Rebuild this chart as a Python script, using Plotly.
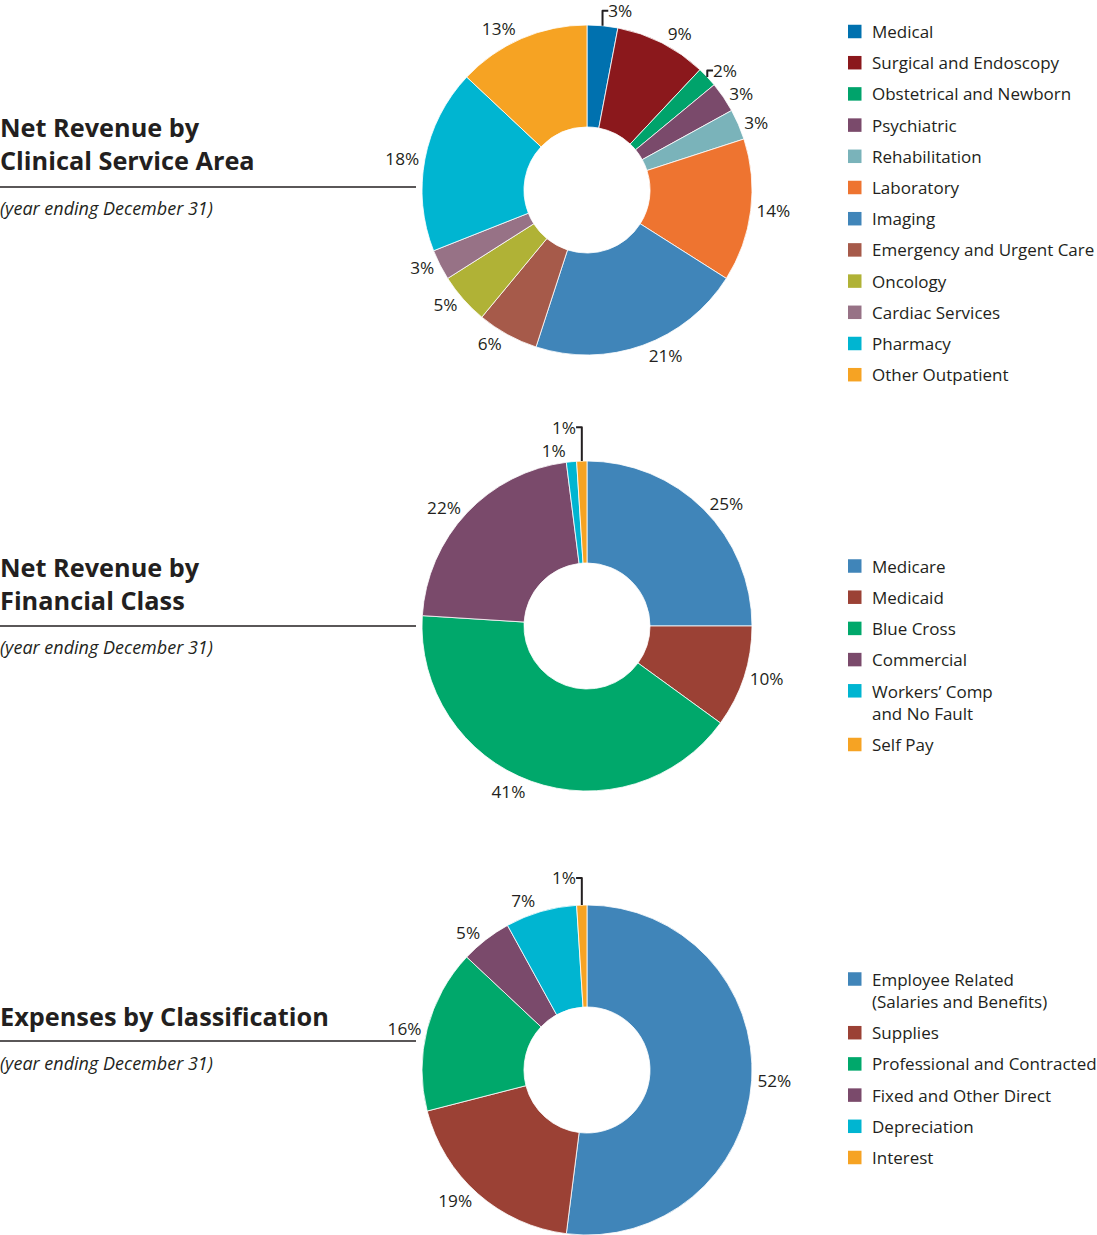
import plotly.graph_objects as go

W, H = 1097, 1235
FONT = "Open Sans"
INK = "#231f20"

# ---------------- data ----------------
clin_labels = ["Medical", "Surgical and Endoscopy", "Obstetrical and Newborn", "Psychiatric",
               "Rehabilitation", "Laboratory", "Imaging", "Emergency and Urgent Care",
               "Oncology", "Cardiac Services", "Pharmacy", "Other Outpatient"]
clin_values = [3, 9, 2, 3, 3, 14, 21, 6, 5, 3, 18, 13]
clin_colors = ["#0071af", "#8b181c", "#00a36b", "#7a4a6b", "#7ab3ba", "#ee7430",
               "#4085b9", "#a65a4a", "#b0b236", "#977286", "#00b5d1", "#f6a323"]

fin_labels = ["Medicare", "Medicaid", "Blue Cross", "Commercial",
              "Workers’ Comp<br>and No Fault", "Self Pay"]
fin_values = [25, 10, 41, 22, 1, 1]
fin_colors = ["#4085b9", "#9b4135", "#00a86b", "#7a4a6b", "#00b5d1", "#f6a323"]

exp_labels = ["Employee Related<br>(Salaries and Benefits)", "Supplies",
              "Professional and Contracted", "Fixed and Other Direct", "Depreciation", "Interest"]
exp_values = [52, 19, 16, 5, 7, 1]
exp_colors = ["#4085b9", "#9b4135", "#00a86b", "#7a4a6b", "#00b5d1", "#f6a323"]

titles = ["Net Revenue by<br>Clinical Service Area",
          "Net Revenue by<br>Financial Class",
          "Expenses by Classification"]
subtitle = "(year ending December 31)"

# ---------------- layout helpers (pixel -> paper) ----------------
def px(x):
    return x / W

def py(y):
    return 1 - y / H

panels = [
    dict(labels=clin_labels, values=clin_values, colors=clin_colors,
         cy=190, title_y=143, rule_y=187, sub_y=208, leg_y=31.5),
    dict(labels=fin_labels, values=fin_values, colors=fin_colors,
         cy=626, title_y=584, rule_y=626, sub_y=647, leg_y=566),
    dict(labels=exp_labels, values=exp_values, colors=exp_colors,
         cy=1070, title_y=1016, rule_y=1041, sub_y=1063, leg_y=979),
]
CX, R = 587, 165

fig = go.Figure()
annotations = []
shapes = []

for i, p in enumerate(panels):
    fig.add_trace(go.Pie(
        labels=p["labels"], values=p["values"],
        marker=dict(colors=p["colors"], line=dict(color="white", width=0.8)),
        sort=False, direction="clockwise", rotation=0, hole=0.382,
        textposition="outside", texttemplate="%{value}%",
        textfont=dict(family=FONT, size=17.2, color=INK),
        domain=dict(x=[px(CX - R), px(CX + R)], y=[py(p["cy"] + R), py(p["cy"] - R)]),
        showlegend=False, hoverinfo="label+value", automargin=False,
    ))
    # title
    annotations.append(dict(
        text=f"<b>{titles[i]}</b>", x=0, y=py(p["title_y"]), xref="paper", yref="paper",
        xanchor="left", yanchor="middle", align="left", showarrow=False,
        borderpad=0, borderwidth=0,
        font=dict(family=FONT, size=25.3, color=INK)))
    annotations.append(dict(
        text=f"<i>{subtitle}</i>", x=0, y=py(p["sub_y"]), xref="paper", yref="paper",
        xanchor="left", yanchor="middle", showarrow=False,
        borderpad=0, borderwidth=0,
        font=dict(family=FONT, size=18, color=INK)))
    shapes.append(dict(type="line", xref="paper", yref="paper",
                       x0=0, x1=px(416), y0=py(p["rule_y"]), y1=py(p["rule_y"]),
                       line=dict(color=INK, width=1.3)))
    # legend (built from the label / colour lists)
    y = p["leg_y"]
    for lab, col in zip(p["labels"], p["colors"]):
        nlines = lab.count("<br>") + 1
        shapes.append(dict(type="rect", xref="paper", yref="paper",
                           x0=px(848), x1=px(861.5), y0=py(y + 6.75), y1=py(y - 6.75),
                           fillcolor=col, line=dict(width=0)))
        annotations.append(dict(
            text=lab, x=px(869.5), y=py(y + (nlines - 1) * 22.5 / 2), xref="paper", yref="paper",
            xanchor="left", yanchor="middle", align="left", showarrow=False,
            font=dict(family=FONT, size=17, color=INK)))
        y += 31.2 + (nlines - 1) * 22.5

fig.update_layout(
    width=W, height=H,
    margin=dict(l=0, r=0, t=0, b=0, pad=0, autoexpand=False),
    paper_bgcolor="white", plot_bgcolor="white",
    annotations=annotations, shapes=shapes,
    font=dict(family=FONT, color=INK),
)

fig.write_html("out.html")
